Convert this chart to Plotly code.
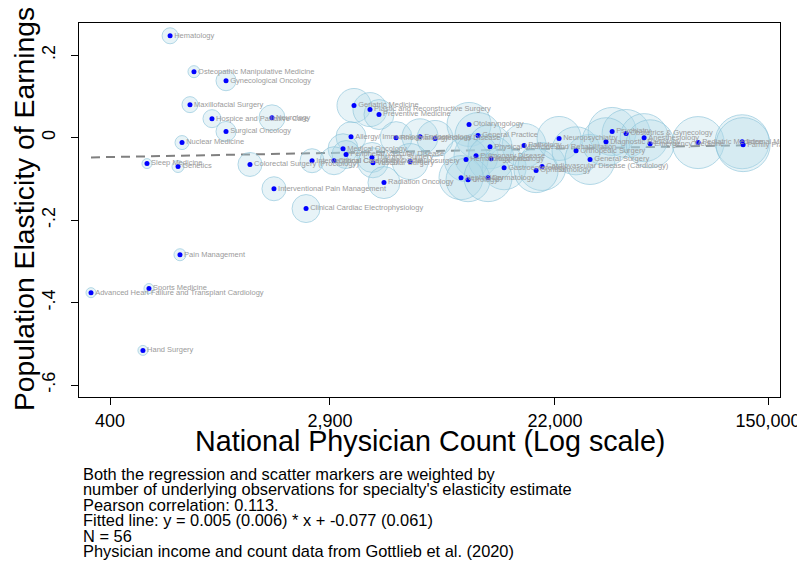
import numpy as np
import plotly.graph_objects as go

specialty = [
    "Hematology", "Osteopathic Manipulative Medicine", "Gynecological Oncology", "Maxillofacial Surgery",
    "Hospice and Palliative Care", "Neurology", "Surgical Oncology", "Nuclear Medicine",
    "Sleep Medicine", "Genetics", "Colorectal Surgery (Proctology)", "Interventional Pain Management",
    "Clinical Cardiac Electrophysiology", "Pain Management", "Sports Medicine",
    "Advanced Heart Failure and Transplant Cardiology", "Hand Surgery", "Geriatric Medicine",
    "Plastic and Reconstructive Surgery", "Preventive Medicine", "Allergy/ Immunology", "Rheumatology",
    "Endocrinology", "Infectious Disease", "Medical Oncology", "Peripheral Vascular Disease",
    "Interventional Cardiology", "Critical Care (Intensivists)", "Thoracic Surgery", "Vascular Surgery",
    "Neurosurgery", "Radiation Oncology", "Otolaryngology", "General Practice",
    "Physical Medicine and Rehabilitation", "Pathology", "Pulmonary Disease", "Hematology/Oncology",
    "Hospitalist", "Gastroenterology", "Nephrology", "Urology", "Dermatology",
    "Cardiovascular Disease (Cardiology)", "Ophthalmology", "Neuropsychiatry", "Orthopedic Surgery",
    "General Surgery", "Psychiatry", "Obstetrics & Gynecology", "Diagnostic Radiology",
    "Anesthesiology", "Emergency Medicine", "Pediatric Medicine", "Internal Medicine", "Family Practice",
]

physician_count = [
    687, 852, 1137, 822, 1002, 1720, 1137, 765, 558, 738, 1411, 1751, 2338, 751, 568, 337, 538,
    3601, 4159, 4510, 3505, 5261, 6529, 7473, 3262, 3352, 2468, 3008, 4234, 4272, 5967, 4717,
    10147, 11004, 12259, 16663, 10808, 9878, 12374, 13919, 9443, 10058, 12041, 19595, 18568,
    22835, 26607, 30176, 36827, 41765, 34847, 49118, 51849, 79872, 118790, 119808,
]

elasticity = [
    0.247, 0.160, 0.138, 0.080, 0.046, 0.048, 0.015, -0.012, -0.063, -0.070, -0.065, -0.124,
    -0.172, -0.284, -0.366, -0.376, -0.516, 0.078, 0.068, 0.056, 0.002, 0.000, 0.002, -0.002,
    -0.027, -0.041, -0.056, -0.056, -0.048, -0.061, -0.058, -0.109, 0.032, 0.005, -0.022,
    -0.019, -0.044, -0.053, -0.051, -0.073, -0.097, -0.102, -0.097, -0.070, -0.080, -0.002,
    -0.032, -0.053, 0.015, 0.010, -0.010, 0.000, -0.015, -0.012, -0.010, -0.017,
]

obs_weight = [
    64, 36, 100, 64, 81, 169, 100, 49, 25, 36, 144, 144, 196, 36, 25, 25, 25, 289, 289, 225, 225,
    256, 324, 324, 225, 196, 144, 196, 225, 225, 324, 256, 484, 529, 484, 484, 484, 484, 529, 484,
    484, 484, 576, 576, 484, 484, 576, 625, 576, 576, 576, 576, 576, 676, 729, 729,
]

fit_slope = 0.005
fit_intercept = -0.077

x_tick_vals = [400, 2900, 22000, 150000]
x_tick_text = ["400", "2,900", "22,000", "150,000"]
y_tick_vals = [0.2, 0, -0.2, -0.4, -0.6]
y_tick_text = [".2", "0", "-.2", "-.4", "-.6"]

x_title = "National Physician Count (Log scale)"
y_title = "Population Elasticity of Earnings"

notes = [
    "Both the regression and scatter markers are weighted by",
    "number of underlying observations for specialty's elasticity estimate",
    "Pearson correlation: 0.113.",
    "Fitted line: y = 0.005 (0.006) * x + -0.077 (0.061)",
    "N = 56",
    "Physician income and count data from Gottlieb et al. (2020)",
]

FONT = "Liberation Sans, Arial, sans-serif"

# page has an 8px body margin; figure coords = screen coords - 8
OFF = 8
PL, PR, PT, PB = 79 - OFF, 780 - OFF, 23 - OFF, 397 - OFF
W, H = 805, 569


def px_x(px):
    return (px - OFF - PL) / (PR - PL)


def px_y(py):
    return (PB - (py - OFF)) / (PB - PT)


diam = [2 * np.sqrt(w) for w in obs_weight]

xs_fit = [min(physician_count), max(physician_count)]
ys_fit = [fit_slope * np.log(v) + fit_intercept for v in xs_fit]

fig = go.Figure()
fig.add_trace(go.Scatter(
    x=xs_fit, y=ys_fit, mode="lines",
    line=dict(color="rgb(128,128,128)", width=2, dash="9px,6px"),
    hoverinfo="skip", showlegend=False,
))
fig.add_trace(go.Scatter(
    x=physician_count, y=elasticity, mode="markers",
    marker=dict(size=diam, sizemode="diameter", color="rgba(173,216,230,0.42)",
                line=dict(color="rgba(140,196,218,0.95)", width=1)),
    hoverinfo="skip", showlegend=False,
))
fig.add_trace(go.Scatter(
    x=physician_count, y=elasticity, mode="markers+text",
    text=specialty, textposition="middle right",
    textfont=dict(family=FONT, size=7.5, color="rgb(155,155,155)"),
    marker=dict(size=5, color="rgb(0,0,255)"),
    showlegend=False,
))

fig.update_xaxes(
    type="log", range=[np.log10(np.exp(5.712)), np.log10(np.exp(12.026))],
    tickvals=x_tick_vals, ticktext=x_tick_text, ticks="outside", ticklen=7,
    tickcolor="black", tickfont=dict(family=FONT, size=18, color="black"),
    showline=True, linecolor="black", linewidth=1, mirror=True, showgrid=False, zeroline=False,
    automargin=False,
)
fig.update_yaxes(
    range=[-0.629, 0.278], tickvals=y_tick_vals, ticktext=y_tick_text, tickangle=-90,
    ticks="outside", ticklen=7, tickcolor="black", tickfont=dict(family=FONT, size=18, color="black"),
    ticklabelstandoff=9,
    showline=True, linecolor="black", linewidth=1, mirror=True, showgrid=False, zeroline=False,
    automargin=False,
)

fig.add_annotation(
    text=x_title, xref="paper", yref="paper", x=px_x(430), y=px_y(441),
    xanchor="center", yanchor="middle", showarrow=False,
    font=dict(family=FONT, size=28.7, color="black"),
)
fig.add_annotation(
    text=y_title, xref="paper", yref="paper", x=px_x(24), y=px_y(209),
    xanchor="center", yanchor="middle", showarrow=False, textangle=-90,
    font=dict(family=FONT, size=28.3, color="black"),
)

for i, line in enumerate(notes):
    fig.add_annotation(
        text=line, xref="paper", yref="paper", x=px_x(81), y=px_y(474 + 15.4 * i),
        xanchor="left", yanchor="middle", showarrow=False, align="left",
        font=dict(family=FONT, size=16.4, color="black"),
    )

fig.update_layout(
    width=W, height=H,
    margin=dict(l=PL, r=W - PR, t=PT, b=H - PB, autoexpand=False),
    paper_bgcolor="white", plot_bgcolor="white",
    font=dict(family=FONT),
)

fig.write_html("out.html")
